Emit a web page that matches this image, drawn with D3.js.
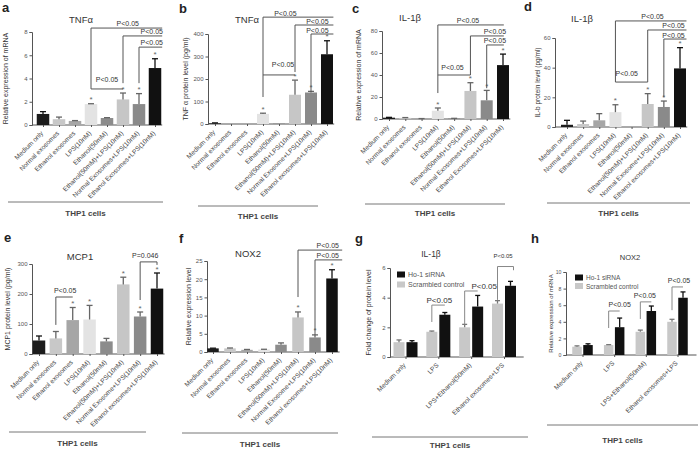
<!DOCTYPE html>
<html><head><meta charset="utf-8">
<script src="https://cdn.jsdelivr.net/npm/d3@7"></script>
<style>
body{margin:0;background:#fff}
svg{display:block}
text{font-family:"Liberation Sans",Arial,sans-serif;fill:#333}
</style>
</head><body>
<svg id="chart" width="700" height="449"></svg>
<script>
// ---------------- DATA ----------------
const labelsA = ["Medium only","Normal exosomes","Ethanol exosomes","LPS(10nM)","Ethanol(50mM)","Ethanol(50mM)+LPS(10nM)","Normal Exosomes+LPS(10nM)","Ethanol Exosomes+LPS(10nM)"];
const labelsB = ["Medium only","Normal exosomes","Ethanol exosomes","LPS(10nM)","Ethanol(50mM)","Ethanol(50mM)+LPS(10nM)","Normal Exosome+LPS(10nM)","Ethanol exosomes+LPS(10nM)"];
const groupLabels = ["Medium only","LPS","LPS+Ethanol(50mM)","Ethanol exosomes+LPS"];
const seriesNames = ["Ho-1 siRNA","Scrambled control"];
const barColors = ["#1c1c1c","#c8c8c8","#a6a6a6","#e3e3e3","#8c8c8c","#c6c6c6","#8a8a8a","#111111"];
const groupColors = ["#111111","#c8c8c8"];

const tnfMrna = [0.95,0.5,0.35,1.8,0.6,2.2,1.8,4.9];
const tnfMrnaSD = [0.2,0.18,0.03,0.03,0.03,0.55,0.9,0.8];
const tnfProtein = [3,0,0,45,2,130,140,310];
const tnfProteinSD = [2,0,0,3,0,65,5,60];
const il1bMrna = [1.2,1,0.3,7.5,0.5,25.5,17,49];
const il1bMrnaSD = [0.3,0.3,0.1,2.5,0.1,7.5,9,10];
const il1bProtein = [1.5,2,4.5,10,0,15.5,13.5,39.5];
const il1bProteinSD = [3,2,4.5,5,0,7,4,14];
const mcp1Protein = [45,52,113,115,42,232,125,218];
const mcp1ProteinSD = [15,23,42,47,10,24,15,52];
const nox2Level = [1,1,0.6,0.7,2,9.5,4,20.2];
const nox2LevelSD = [0.05,0.1,0.1,0.05,0.5,1.5,0.7,2.4];

const il1bSirna = [1.0,2.85,3.4,4.8];
const il1bSirnaSD = [0.1,0.15,0.75,0.3];
const il1bScr = [1.0,1.7,2.0,3.6];
const il1bScrSD = [0.15,0.05,0.2,0.2];
const nox2Sirna = [1.2,3.35,5.3,6.9];
const nox2SirnaSD = [0.15,1.1,0.6,0.7];
const nox2Scr = [1.0,1.2,2.8,4.0];
const nox2ScrSD = [0.1,0.05,0.2,0.3];

const ticksA = [0,2,4,6,8];
const ticksB = [0,100,200,300,400];
const ticksC = [0,20,40,60,80];
const ticksD = [0,20,40,60];
const ticksE = [0,100,200,300];
const ticksF = [0,5,10,15,20,25];
const ticksG = [0,2,4,6];
const ticksH = [0,2,4,6,8,10];

// ---------------- DRAW ----------------
const svg = d3.select("#chart");
const LINE = "#555";

function common(g, p, y) {
  const ya = g.append("g").attr("transform",`translate(${p.ax},0)`)
    .call(d3.axisLeft(y).tickValues(p.ticks).tickSize(2.5).tickPadding(2).tickFormat(d3.format("d")));
  ya.select(".domain").attr("stroke",LINE);
  ya.selectAll(".tick line").attr("stroke",LINE);
  ya.selectAll("text").style("font-size",(p.tickFs||6)+"px").style("fill","#555");
  g.append("text").attr("transform",`translate(${p.ylx},${(p.y0+p.yTop)/2}) rotate(-90)`)
    .attr("text-anchor","middle").style("font-size",(p.ylfs||7)+"px").text(p.ylab);
  g.append("text").attr("x",p.tx).attr("y",p.ty).attr("text-anchor","middle")
    .style("font-size",(p.tfs||9.5)+"px").text(p.title);
  g.append("text").attr("x",p.lx).attr("y",p.ly).style("font-size","13px").style("font-weight","bold")
    .style("fill","#222").text(p.letter);
  g.append("line").attr("x1",p.thp[0]).attr("x2",p.thp[1]).attr("y1",p.thp[2]).attr("y2",p.thp[2])
    .attr("stroke","#777").attr("stroke-width",1);
  g.append("text").attr("x",(p.thp[0]+p.thp[1])/2).attr("y",p.thp[3]).attr("text-anchor","middle")
    .style("font-size","8px").style("font-weight","bold").style("fill","#444").text("THP1 cells");
}

function errBar(g, cx, y, v, sd, cap, color) {
  if (sd <= 0) return;
  g.append("line").attr("x1",cx).attr("x2",cx).attr("y1",y(v)).attr("y2",y(v+sd)).attr("stroke",color).attr("stroke-width",1.3);
  g.append("line").attr("x1",cx-cap/2).attr("x2",cx+cap/2).attr("y1",y(v+sd)).attr("y2",y(v+sd)).attr("stroke",color).attr("stroke-width",1.3);
}

function singlePanel(p) {
  const g = svg.append("g");
  const y = d3.scaleLinear().domain([0,p.ymax]).range([p.y0,p.yTop]);
  const x = d3.scalePoint().domain(p.labels).range([p.c0,p.c7]);
  const step = x.step();
  const xi = i => x(p.labels[0]) + i*step;
  common(g,p,y);
  g.append("line").attr("x1",p.ax).attr("x2",xi(p.labels.length-1)+step*0.45)
    .attr("y1",p.y0).attr("y2",p.y0).attr("stroke",LINE);
  const xa = g.append("g").attr("transform",`translate(0,${p.y0})`).call(d3.axisBottom(x).tickSize(2));
  xa.select(".domain").remove();
  xa.selectAll(".tick line").attr("stroke",LINE);
  xa.selectAll("text").attr("text-anchor","end").attr("x",-6).attr("y",4).attr("dy","0.35em")
    .attr("transform","rotate(-45)").style("font-size","6.6px").style("fill","#444");
  g.selectAll("rect.bar").data(p.values).join("rect").attr("class","bar")
    .attr("x",(d,i)=>xi(i)-p.bw/2).attr("width",p.bw)
    .attr("y",d=>y(d)).attr("height",d=>p.y0-y(d))
    .attr("fill",(d,i)=>barColors[i]);
  p.values.forEach((v,i)=>errBar(g, xi(i), y, v, p.sd[i], 6, i===0||i===7 ? "#111" : "#666"));
  p.stars.forEach(i=>{
    g.append("text").attr("x",xi(i)).attr("y",y(p.values[i]+p.sd[i])-1.5).attr("text-anchor","middle")
      .style("font-size","8px").style("fill","#666").text("*");
  });
  p.brackets.forEach(b=>{
    let d = `M${xi(b.i1)},${y(b.low1)}V${y(b.lvl)}H${xi(b.i2)}`;
    if (b.low2 !== undefined) d += `V${y(b.low2)}`;
    g.append("path").attr("d",d).attr("fill","none").attr("stroke","#555").attr("stroke-width",1);
    g.append("text").attr("x",xi(b.lx)).attr("y",y(b.lvl)-b.gap).attr("text-anchor","middle")
      .style("font-size","7px").text(b.text||"P<0.05");
  });
}

function groupPanel(p) {
  const g = svg.append("g");
  const y = d3.scaleLinear().domain([0,p.ymax]).range([p.y0,p.yTop]);
  const x = d3.scalePoint().domain(groupLabels).range([p.g0,p.g3]);
  const step = x.step();
  const xi = i => x(groupLabels[0]) + i*step;
  common(g,p,y);
  g.append("line").attr("x1",p.ax).attr("x2",xi(3)+step*0.6)
    .attr("y1",p.y0).attr("y2",p.y0).attr("stroke",LINE);
  const xa = g.append("g").attr("transform",`translate(0,${p.y0})`).call(d3.axisBottom(x).tickSize(2));
  xa.select(".domain").remove();
  xa.selectAll(".tick line").attr("stroke",LINE);
  xa.selectAll("text").attr("text-anchor","end").attr("x",-6).attr("y",4).attr("dy","0.35em")
    .attr("transform","rotate(-45)").style("font-size","6.6px").style("fill","#444");
  const series = [{v:p.black, sd:p.blackSD, off:+1, c:groupColors[0]},{v:p.gray, sd:p.graySD, off:-1, c:groupColors[1]}];
  series.forEach(s=>{
    g.selectAll(null).data(s.v).join("rect")
      .attr("x",(d,i)=>xi(i)+s.off*p.off-p.bw/2).attr("width",p.bw)
      .attr("y",d=>y(d)).attr("height",d=>p.y0-y(d)).attr("fill",s.c);
    s.v.forEach((v,i)=>errBar(g, xi(i)+s.off*p.off, y, v, s.sd[i], 5, s.off>0?"#111":"#777"));
  });
  seriesNames.forEach((n,k)=>{
    g.append("rect").attr("x",p.legX).attr("y",p.legY+k*p.legDy-3.5).attr("width",p.legW).attr("height",6).attr("fill",groupColors[k]);
    g.append("text").attr("x",p.legX+p.legW+3).attr("y",p.legY+k*p.legDy).attr("dy","0.35em")
      .style("font-size",p.legFs+"px").style("fill","#555").text(n);
  });
  p.brackets.forEach(b=>{
    const x1 = xi(b.grp)-p.off, x2 = xi(b.grp)+p.off+(b.ext||0);
    let d = `M${x1},${y(b.low1)}V${y(b.lvl)}H${x2}`;
    if (b.low2 !== undefined) d += `V${y(b.low2)}`;
    g.append("path").attr("d",d).attr("fill","none").attr("stroke","#888").attr("stroke-width",1);
    g.append("text").attr("x",xi(b.grp)+b.dx).attr("y",y(b.lvl)-b.gap).attr("text-anchor","middle")
      .style("font-size",b.fs+"px").text("P<0.05");
  });
}

singlePanel({letter:"a",lx:2,ly:12,title:"TNFα",tx:81,ty:23,ylab:"Relative expression of mRNA",ylx:8,
  ax:32,y0:125,yTop:32,ymax:8,ticks:ticksA,c0:43,c7:155,bw:12.5,labels:labelsA,values:tnfMrna,sd:tnfMrnaSD,
  stars:[3,5,6,7],thp:[8,163,202,216],
  brackets:[{i1:3,low1:3.1,i2:7.45,lvl:8.34,lx:5.3,gap:2},{i1:5,low1:3.6,i2:7.45,lvl:7.66,lx:6.8,gap:2},
            {i1:6,low1:3.6,i2:7.45,lvl:6.7,lx:6.8,gap:2},{i1:3,low1:3.1,i2:5,lvl:3.1,lx:4,gap:7}]});

singlePanel({letter:"b",lx:179,ly:13,title:"TNFα",tx:247,ty:23,ylab:"TNF α protein level (pg/ml)",ylx:188,
  ax:208,y0:124,yTop:34,ymax:400,ticks:ticksB,c0:215,c7:327,bw:12,labels:labelsB,values:tnfProtein,sd:tnfProteinSD,
  stars:[3,5,6,7],thp:[198,318,206,219],
  brackets:[{i1:3,low1:120,i2:7.4,lvl:475,lx:4.4,gap:1.5},{i1:5,low1:231,i2:7.4,lvl:440,lx:6.4,gap:1.5},
            {i1:6,low1:142,i2:7.4,lvl:400,lx:6.4,gap:1.5},{i1:3,low1:218,i2:5,lvl:218,lx:4.25,gap:8}]});

singlePanel({letter:"c",lx:352,ly:13,title:"IL-1β",tx:410,ty:21,ylab:"Relative expression of mRNA",ylx:361,
  ax:382,y0:119,yTop:31,ymax:80,ticks:ticksC,c0:389,c7:503,bw:12,labels:labelsA,values:il1bMrna,sd:il1bMrnaSD,
  stars:[3,5,6,7],thp:[365,505,204,216],
  brackets:[{i1:3,low1:23.6,i2:7.05,lvl:85.5,lx:4.85,gap:1.5},{i1:5,low1:40,i2:7.05,lvl:75.5,lx:6.5,gap:2},
            {i1:6,low1:28,i2:7.05,lvl:67.3,lx:6.5,gap:2},{i1:3,low1:40,i2:5,lvl:40,lx:3.9,gap:5}]});

singlePanel({letter:"d",lx:524,ly:11,title:"IL-1β",tx:582,ty:22,ylab:"IL-b protein level (pg/ml)",ylx:540,ylfs:6.5,
  ax:555,y0:127,yTop:38,ymax:60,ticks:ticksD,c0:567,c7:680,bw:12,labels:labelsB,values:il1bProtein,sd:il1bProteinSD,
  stars:[3,5,6,7],thp:[547,690,203,216],
  brackets:[{i1:3,low1:30.3,i2:7.4,lvl:71.5,lx:5.3,gap:1.5},{i1:5,low1:30.3,i2:7.4,lvl:65.4,lx:6.6,gap:1.5},
            {i1:6,low1:20,i2:7.4,lvl:59.3,lx:6.6,gap:1.5},{i1:3,low1:30.3,i2:5,lvl:30.3,lx:3.7,gap:6}]});

singlePanel({letter:"e",lx:4,ly:242,title:"MCP1",tx:80,ty:260,ylab:"MCP1 protein level (pg/ml)",ylx:10,
  ax:32,y0:354,yTop:264,ymax:300,ticks:ticksE,c0:39,c7:157,bw:12.5,labels:labelsB,values:mcp1Protein,sd:mcp1ProteinSD,
  stars:[2,3,5,6,7],thp:[9,146,432,446],
  brackets:[{i1:1,low1:97,i2:2,lvl:190,lx:1.55,gap:4},{i1:6,low1:180,i2:7,lvl:307,low2:297,lx:6.3,gap:4,text:"P=0.046"}]});

singlePanel({letter:"f",lx:179,ly:243,title:"NOX2",tx:248,ty:257,ylab:"Relative expression level",ylx:191,
  ax:207,y0:352,yTop:261,ymax:25,ticks:ticksF,c0:213,c7:332,bw:11.5,labels:labelsB,values:nox2Level,sd:nox2LevelSD,
  stars:[5,6,7],thp:[182,338,433,447],
  brackets:[{i1:5,low1:15.1,i2:7.6,lvl:28,lx:6.75,gap:2},{i1:6,low1:4.7,i2:7.6,lvl:25.3,lx:6.75,gap:2}]});

groupPanel({letter:"g",lx:355,ly:243,title:"IL-1β",tx:431,ty:257,tfs:8.5,ylab:"Fold change of protein level",ylx:371,
  ax:390,y0:357,yTop:268,ymax:6,ticks:ticksG,g0:405.5,g3:504,off:6.5,bw:11,
  black:il1bSirna,blackSD:il1bSirnaSD,gray:il1bScr,graySD:il1bScrSD,
  legX:397,legY:275,legDy:10,legW:8,legFs:7,thp:[372,528,437,448],
  brackets:[{grp:1,low1:2.36,lvl:3.5,dx:1,gap:2.5,fs:8},{grp:2,low1:2.2,lvl:4.45,dx:13,gap:2,fs:8},
            {grp:3,low1:3.85,lvl:6.1,ext:3,low2:5.85,dx:-1,gap:9,fs:6}]});

groupPanel({letter:"h",lx:531,ly:243,title:"NOX2",tx:630,ty:260,tfs:7.5,ylab:"Relative expression of mRNA",ylx:553,ylfs:6,tickFs:5.2,
  ax:566,y0:355,yTop:272,ymax:10,ticks:ticksH,g0:582.5,g3:677.5,off:5.5,bw:9.5,
  black:nox2Sirna,blackSD:nox2SirnaSD,gray:nox2Scr,graySD:nox2ScrSD,
  legX:575,legY:278,legDy:8.5,legW:8,legFs:6.5,thp:[547,698,425,443],
  brackets:[{grp:1,low1:3.25,lvl:5.3,dx:5.5,gap:4,fs:7},{grp:2,low1:4.34,lvl:6.4,dx:-1,gap:4,fs:7},
            {grp:3,low1:5.4,lvl:8.2,dx:1.5,gap:4,fs:7}]});
</script>
</body></html>
